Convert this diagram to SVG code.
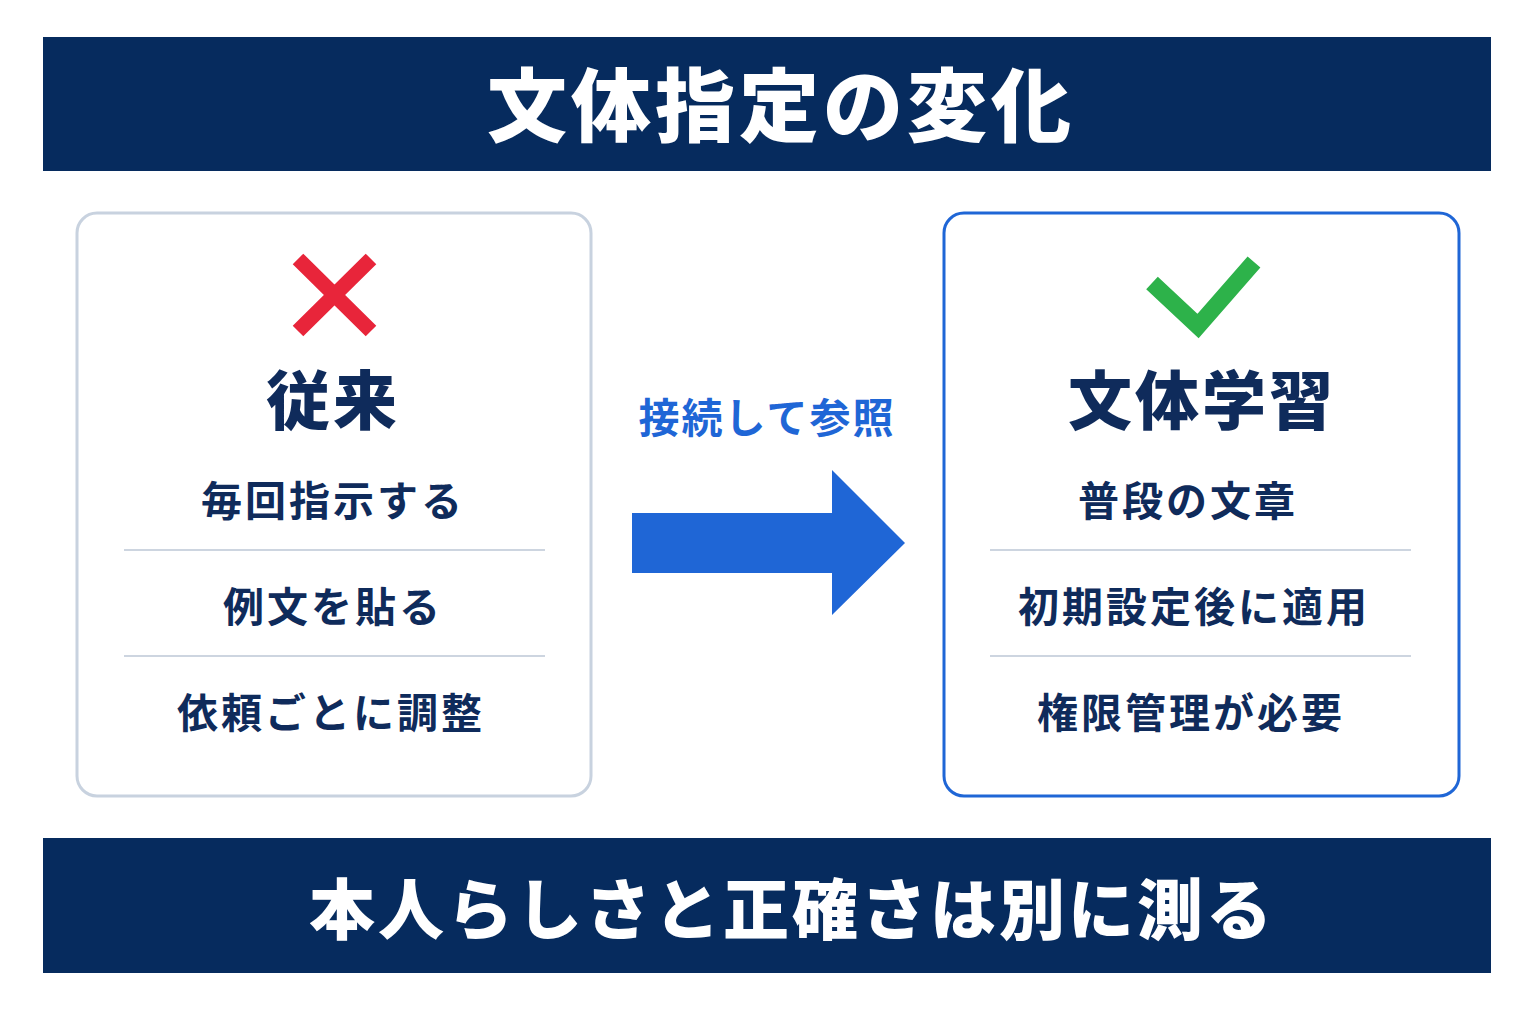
<svg xmlns="http://www.w3.org/2000/svg" width="1536" height="1024" viewBox="0 0 1536 1024">
<style>
text{font-family:"Noto Sans CJK JP","Noto Sans CJK SC",sans-serif;text-anchor:middle;font-weight:700}
.banner{fill:#062b5e}
.bt{fill:#ffffff;font-weight:900}
.head{fill:#0f2b5b;font-size:64px;font-weight:900;letter-spacing:3px}
.item{fill:#0f2b5b;font-size:41px;letter-spacing:3px}
.div{stroke:#cdd5e0;stroke-width:2}
</style>
<rect width="1536" height="1024" fill="#ffffff"/>
<g id="title">
<rect class="banner" x="43" y="37" width="1448" height="134"/>
<text class="bt" x="781" y="135" font-size="80" letter-spacing="4">文体指定の変化</text>
</g>
<g id="old">
<rect x="77" y="213" width="514" height="583" rx="20" fill="#ffffff" stroke="#c8d2df" stroke-width="3"/>
<path d="M298 259 L371 331 M371 259 L298 331" stroke="#e8253a" stroke-width="15" fill="none"/>
<text class="head" x="333" y="424">従来</text>
<text class="item" x="333" y="516">毎回指示する</text>
<line class="div" x1="124" y1="550" x2="545" y2="550"/>
<text class="item" x="333" y="622">例文を貼る</text>
<line class="div" x1="124" y1="656" x2="545" y2="656"/>
<text class="item" x="331" y="728">依頼ごとに調整</text>
</g>
<g id="new">
<rect x="944" y="213" width="515" height="583" rx="20" fill="#ffffff" stroke="#1f66d6" stroke-width="3"/>
<path d="M1152 283 L1198 326 L1254 262" stroke="#2db24a" stroke-width="17" fill="none" stroke-linecap="butt" stroke-linejoin="miter"/>
<text class="head" x="1202" y="424">文体学習</text>
<text class="item" x="1188" y="516">普段の文章</text>
<line class="div" x1="990" y1="550" x2="1411" y2="550"/>
<text class="item" x="1194" y="622">初期設定後に適用</text>
<line class="div" x1="990" y1="656" x2="1411" y2="656"/>
<text class="item" x="1191" y="728">権限管理が必要</text>
</g>
<g id="connectors">
<text x="767" y="433" font-size="41" fill="#1f66d6" letter-spacing="2">接続して参照</text>
<path d="M632 513 H832 V470 L905 543 L832 615 V573 H632 Z" fill="#1f66d6"/>
</g>
<g id="footer">
<rect class="banner" x="43" y="838" width="1448" height="135"/>
<text class="bt" x="792" y="934" font-size="66" letter-spacing="3">本人らしさと正確さは別に測る</text>
</g>
</svg>
